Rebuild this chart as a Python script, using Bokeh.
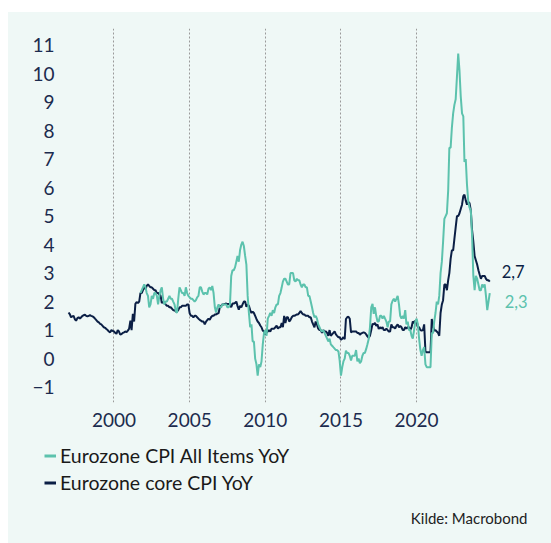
import pandas as pd
from bokeh.plotting import figure
from bokeh.models import (FixedTicker, DatetimeTickFormatter, Range1d, Legend,
                          LegendItem, Label, Spacer)
from bokeh.layouts import column, row
from bokeh.embed import file_html
from bokeh.resources import INLINE
from bokeh.core.properties import value

# ---------------- data (monthly, YoY %) ----------------
core_label = "Eurozone core CPI YoY"
core_start = "1997-01-01"
core_values = [
    1.62, 1.55, 1.45, 1.48, 1.5, 1.38, 1.33, 1.42, 1.45, 1.4, 1.45, 1.5,      # 1997
    1.52, 1.54, 1.5, 1.48, 1.5, 1.52, 1.5, 1.48, 1.45, 1.4, 1.35, 1.3,        # 1998
    1.27, 1.22, 1.2, 1.15, 1.1, 1.08, 1.04, 1.0, 0.95, 0.92, 1.0, 0.97,       # 1999
    0.95, 0.9, 0.87, 1.0, 0.95, 0.84, 0.86, 0.9, 0.92, 0.95, 0.93, 0.98,      # 2000
    1.05, 1.33, 1.0, 1.57, 1.3, 1.92, 1.98, 1.95, 2.0, 2.3, 2.3, 2.4,         # 2001
    2.5, 2.45, 2.55, 2.6, 2.55, 2.5, 2.5, 2.45, 2.4, 2.4, 2.3, 2.3,           # 2002
    2.25, 2.2, 1.95, 2.0, 1.95, 1.9, 1.85, 1.85, 1.8, 1.8, 1.75, 1.7,         # 2003
    1.7, 1.65, 1.65, 1.7, 1.8, 1.8, 1.85, 1.85, 1.85, 1.85, 1.9, 1.9,         # 2004
    1.59, 1.5, 1.5, 1.45, 1.5, 1.5, 1.45, 1.4, 1.36, 1.33, 1.3, 1.3,          # 2005
    1.2, 1.3, 1.35, 1.4, 1.36, 1.45, 1.5, 1.5, 1.55, 1.55, 1.58, 1.6,         # 2006
    1.82, 1.85, 1.9, 1.9, 1.92, 1.93, 1.9, 1.92, 1.9, 1.8, 1.93, 1.93,        # 2007
    1.95, 2.0, 1.85, 1.72, 1.85, 1.8, 1.9, 2.0, 2.0, 1.82, 1.9, 1.85,         # 2008
    1.7, 1.6, 1.65, 1.6, 1.5, 1.39, 1.3, 1.25, 1.16, 1.1, 0.98, 0.95,         # 2009
    0.84, 0.92, 0.95, 1.0, 0.95, 1.05, 1.05, 1.05, 1.1, 1.16, 1.05, 1.1,      # 2010
    1.1, 1.25, 1.1, 1.5, 1.25, 1.45, 1.45, 1.3, 1.36, 1.45, 1.5, 1.5,         # 2011
    1.52, 1.55, 1.55, 1.6, 1.67, 1.6, 1.55, 1.55, 1.5, 1.5, 1.5, 1.45,        # 2012
    1.45, 1.3, 1.2, 1.1, 1.3, 1.2, 1.05, 1.0, 1.0, 0.9, 1.0, 0.95,            # 2013
    0.95, 0.9, 0.8, 1.0, 0.8, 0.85, 0.9, 0.95, 0.85, 0.8, 0.75, 0.75,         # 2014
    0.66, 0.7, 0.75, 0.68, 1.39, 1.45, 1.47, 1.4, 0.92, 0.95, 0.95, 0.95,     # 2015
    0.95, 0.9, 0.9, 0.84, 0.88, 0.9, 0.92, 0.9, 0.85, 0.78, 0.73, 0.8,        # 2016
    1.0, 1.22, 1.2, 1.25, 1.15, 1.2, 1.04, 1.1, 1.05, 1.1, 1.0, 1.0,          # 2017
    1.05, 1.0, 0.95, 0.95, 1.2, 1.1, 1.1, 1.05, 1.15, 1.2, 1.1, 1.15,         # 2018
    1.1, 1.0, 1.0, 1.1, 1.05, 1.1, 1.1, 1.0, 1.1, 1.3, 1.25, 1.33,            # 2019
    1.33, 1.1, 1.1, 1.0, 0.98, 1.0, 1.2, 0.25, 0.22, 0.22, 0.22, 0.22,        # 2020
    1.39, 1.15, 0.98, 1.0, 0.95, 0.9, 0.8, 1.6, 1.9, 2.05, 2.6, 2.6,          # 2021
    2.4, 2.75, 3.0, 3.5, 3.8, 3.8, 4.2, 4.6, 5.0, 5.0, 5.1, 5.25,             # 2022
    5.4, 5.7, 5.75, 5.55, 5.4, 5.5, 5.45, 5.2, 4.5, 4.1, 3.6, 3.45,           # 2023
    3.3, 3.1, 2.95, 2.8, 2.9, 2.9, 2.9, 2.8, 2.75, 2.75, 2.7,                 # 2024
]

headline_label = "Eurozone CPI All Items YoY"
headline_start = "2001-10-01"
headline_values = [
    2.3, 2.4, 2.5,                                                            # 2001 Q4
    2.6, 2.5, 2.3, 2.2, 1.8, 1.9, 2.2, 2.1, 2.3, 2.3, 2.2, 1.9,               # 2002
    2.2, 2.4, 2.5, 2.1, 1.9, 2.0, 2.0, 2.1, 2.2, 2.1, 2.1, 2.0,               # 2003
    1.9, 1.68, 1.6, 2.1, 2.5, 2.4, 2.3, 2.3, 2.2, 2.5, 2.3, 2.2,              # 2004
    2.15, 2.1, 2.1, 2.05, 2.0, 2.05, 2.15, 2.2, 2.5, 2.5, 2.35, 2.25,         # 2005
    2.3, 2.3, 2.25, 2.45, 2.5, 2.4, 2.55, 2.3, 1.8, 1.62, 1.8, 1.9,           # 2006
    1.8, 1.8, 1.9, 1.9, 1.9, 1.9, 1.8, 1.8, 1.9, 2.9, 3.1, 3.1,               # 2007
    3.2, 3.4, 3.6, 3.4, 3.8, 4.0, 4.1, 3.95, 3.6, 3.3, 2.2, 1.6,              # 2008
    1.1, 1.2, 0.6, 0.6, 0.0, -0.2, -0.6, -0.2, -0.3, -0.1, 0.5, 0.9,          # 2009
    1.0, 0.8, 1.4, 1.5, 1.6, 1.5, 1.7, 1.6, 1.8, 1.9, 1.9, 2.2,               # 2010
    2.3, 2.5, 2.7, 2.8, 2.8, 2.7, 2.6, 2.6, 3.0, 3.0, 3.0, 2.75,              # 2011
    2.7, 2.8, 2.75, 2.75, 2.6, 2.5, 2.6, 2.6, 2.5, 2.5, 2.2, 2.2,             # 2012
    2.0, 1.8, 1.6, 1.45, 1.5, 1.4, 1.2, 1.1, 1.0, 0.95, 1.0, 0.9,             # 2013
    0.8, 0.7, 0.6, 0.7, 0.5, 0.45, 0.4, 0.35, 0.3, 0.3, 0.25, -0.07,          # 2014
    -0.6, -0.3, -0.1, 0.0, 0.28, 0.2, 0.2, 0.1, -0.07, 0.1, 0.1, 0.1,         # 2015
    0.3, -0.1, 0.0, -0.16, -0.1, 0.1, 0.2, 0.2, 0.34, 0.5, 0.69, 1.1,         # 2016
    1.8, 1.92, 1.57, 1.8, 1.5, 1.3, 1.3, 1.5, 1.5, 1.4, 1.5, 1.4,             # 2017
    1.3, 1.1, 1.3, 1.3, 1.9, 2.03, 2.1, 2.0, 2.1, 2.2, 1.9, 1.5,              # 2018
    1.4, 1.5, 1.4, 1.7, 1.2, 1.3, 1.0, 1.0, 0.8, 0.7, 1.0, 1.3,               # 2019
    1.4, 1.2, 0.7, 0.3, 0.1, 0.3, 0.4, -0.2, -0.3, -0.3, -0.3, -0.3,          # 2020
    0.9, 0.9, 1.3, 1.6, 2.0, 1.9, 2.2, 3.0, 3.4, 4.1, 4.9, 5.0,               # 2021
    5.1, 5.9, 7.4, 7.4, 8.1, 8.6, 8.9, 9.1, 9.9, 10.7, 10.1, 9.2,             # 2022
    8.6, 8.5, 6.9, 7.0, 6.1, 5.5, 5.3, 5.2, 4.3, 2.9, 2.4, 2.9,               # 2023
    2.8, 2.6, 2.4, 2.4, 2.6, 2.5, 2.6, 2.2, 1.7, 2.0, 2.3,                    # 2024
]

year_ticks = [2000, 2005, 2010, 2015, 2020]
y_ticks = list(range(-1, 12))
source_text = "Kilde: Macrobond"

# ---------------- styling ----------------
BG = "#eff8f6"
GREEN = "#5cc2ad"
NAVY = "#0b1f45"
TICK_COLOR = "#1c2b4e"
FONT = "Lato"

core_dates = pd.date_range(core_start, periods=len(core_values), freq="MS")
head_dates = pd.date_range(headline_start, periods=len(headline_values), freq="MS")

# ---------------- main chart ----------------
p = figure(width=543, height=420, x_axis_type="datetime",
           output_backend="svg", toolbar_location=None,
           x_range=Range1d(pd.Timestamp("1996-09-24"), pd.Timestamp("2027-08-05")),
           y_range=Range1d(-1.54, 11.58),
           min_border_left=56, min_border_right=20,
           min_border_top=16, min_border_bottom=30,
           styles={"background-color": BG})
p.background_fill_color = BG
p.border_fill_color = BG
p.outline_line_color = None

d = p.line(core_dates, core_values, line_color=NAVY, line_width=2)
g = p.line(head_dates, headline_values, line_color=GREEN, line_width=2)

# end-value labels
p.text([core_dates[-1]], [core_values[-1]],
       text=[f"{core_values[-1]:.1f}".replace(".", ",")],
       x_offset=12, y_offset=-10, text_color=NAVY, text_font=value(FONT),
       text_font_size="16.5px", text_baseline="middle", text_align="left")
p.text([head_dates[-1]], [headline_values[-1]],
       text=[f"{headline_values[-1]:.1f}".replace(".", ",")],
       x_offset=15, y_offset=8, text_color=GREEN, text_font=value(FONT),
       text_font_size="16.5px", text_baseline="middle", text_align="left")

xt = FixedTicker(ticks=[pd.Timestamp(f"{y}-01-01").value // 10**6 for y in year_ticks])
p.xaxis.ticker = xt
p.xaxis.formatter = DatetimeTickFormatter(years="%Y", months="%Y", days="%Y",
                                          hours="%Y", minutes="%Y", seconds="%Y")
p.yaxis.ticker = FixedTicker(ticks=y_ticks)

for ax in (p.xaxis, p.yaxis):
    ax.axis_line_color = None
    ax.major_tick_line_color = None
    ax.minor_tick_line_color = None
    ax.major_label_text_font = FONT
    ax.major_label_text_font_size = "19px"
    ax.major_label_text_color = TICK_COLOR
p.xaxis.major_label_standoff = 4
p.yaxis.major_label_standoff = 4

p.xgrid.ticker = xt
p.xgrid.grid_line_color = "#9a9a9a"
p.xgrid.grid_line_dash = "2 2"
p.xgrid.grid_line_width = 1
p.ygrid.visible = False

# ---------------- legend + source strip ----------------
p2 = figure(width=543, height=111, output_backend="svg", toolbar_location=None,
            x_range=Range1d(0, 1), y_range=Range1d(0, 1),
            x_axis_location=None, y_axis_location=None,
            min_border_left=0, min_border_right=0, min_border_top=0, min_border_bottom=0,
            styles={"background-color": BG})
p2.background_fill_color = BG
p2.border_fill_color = BG
p2.outline_line_color = None
p2.grid.visible = False

# legend-swatch renderers (kept outside the visible range; only their legend glyphs show)
lg = p2.line([-2, -1], [-2, -2], line_color=GREEN, line_width=3)
ld = p2.line([-2, -1], [-2, -2], line_color=NAVY, line_width=3)

legend = Legend(items=[LegendItem(label=headline_label, renderers=[lg]),
                       LegendItem(label=core_label, renderers=[ld])],
                location=(36, 47), orientation="vertical",
                glyph_width=12, glyph_height=27, label_height=27,
                label_standoff=4, spacing=0, padding=0, margin=0,
                border_line_color=None, background_fill_alpha=0,
                label_text_font=FONT, label_text_font_size="19.5px",
                label_text_color="#1a1a1a")
p2.add_layout(legend)

p2.add_layout(Label(x=519, y=26, x_units="screen", y_units="screen",
                    text=source_text, text_align="right", text_baseline="middle",
                    text_font=FONT, text_font_size="15px", text_color="#222222"))

layout = column(Spacer(width=551, height=12),
                row(Spacer(width=8, height=420), p),
                row(Spacer(width=8, height=111), p2))
open("out.html", "w").write(file_html(layout, INLINE))
